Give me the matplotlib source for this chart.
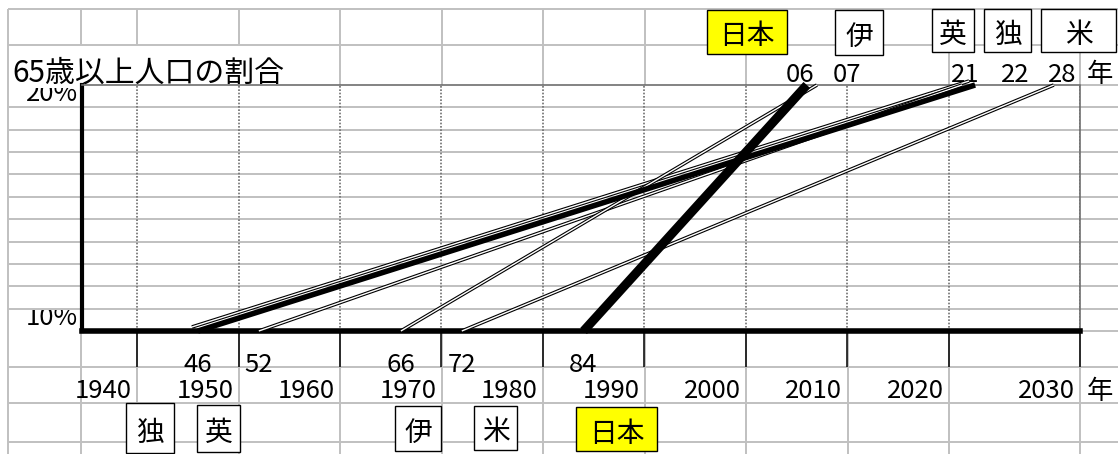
import numpy as np
import matplotlib.pyplot as plt
from matplotlib.patches import Rectangle
from matplotlib.transforms import offset_copy

plt.rcParams['font.family'] = ['Noto Sans CJK JP', 'DejaVu Sans']

# 65歳以上人口の割合が10%と20%に達した年
countries = ['独', '英', '伊', '米', '日本']
year_10 = [1946, 1952, 1966, 1972, 1984]
year_20 = [2022, 2021, 2007, 2028, 2006]
decades = [1940, 1950, 1960, 1970, 1980, 1990, 2000, 2010, 2020, 2030]

W, H = 1118, 454
fig = plt.figure(figsize=(W / 100, H / 100), dpi=100)

# ---- シートの罫線 ----
sheet = fig.add_axes([0, 0, 1, 1])
sheet.set_xlim(0, W)
sheet.set_ylim(H, 0)
sheet.axis('off')

grey = '#c0c0c0'
plot_top, plot_bot, plot_l, plot_r = 85, 331, 82, 1080
inner_rows = np.linspace(plot_top, plot_bot, 12)[1:-1]
for y in [9, 45, 367, 403, 442, *inner_rows]:
    sheet.hlines(y, 8, W, color=grey, lw=1.4)
for y in [plot_top, plot_bot]:
    sheet.hlines(y, plot_r, W, color=grey, lw=1.4)

sheet.vlines(8, 9, H, color=grey, lw=1.4)
for x in [81, 137, 238.5, 847.5]:
    sheet.vlines(x, 9, 45, color=grey, lw=1.4)
    sheet.vlines(x, plot_bot, H, color=grey, lw=1.4)
for x in [340, 441.5, 543, 644.5, 746, 949, 1080]:
    sheet.vlines(x, 9, plot_top, color=grey, lw=1.4)
    sheet.vlines(x, plot_bot, H, color=grey, lw=1.4)

sheet.text(12, 82, '65歳以上人口の割合', fontsize=21.5, va='baseline')

# セルからはみ出して上が切れている目盛り文字
for txt, base, top in [('20%', 101, 88), ('10%', 325, 310)]:
    t = sheet.text(78, base, txt, ha='right', va='baseline', fontsize=18.5)
    t.set_clip_on(True)
    t.set_clip_path(Rectangle((8, top), 73, 40, transform=sheet.transData))

# 国名の枠
def label_box(x0, y0, x1, y1, name, face):
    sheet.add_patch(Rectangle((x0, y0), x1 - x0, y1 - y0, facecolor=face,
                              edgecolor='black', lw=1, zorder=3))
    sheet.text((x0 + x1) / 2, (y0 + y1) / 2 + 1, name, ha='center',
               va='center_baseline', fontsize=20, zorder=4)

top_boxes = {'日本': (707, 10, 787, 54), '伊': (835, 10, 883, 55),
             '英': (932, 9, 974, 52), '独': (984, 9, 1031, 52),
             '米': (1041, 9, 1116, 52)}
bottom_boxes = {'独': (126, 403, 174, 453), '英': (197, 405, 240, 452),
                '伊': (395, 406, 441, 451), '米': (474, 406, 517, 450),
                '日本': (576, 407, 657, 451)}
for name in countries:
    face = '#ffff00' if name == '日本' else 'white'
    label_box(*top_boxes[name], name, face)
    label_box(*bottom_boxes[name], name, face)

# 20%到達年のラベル（上段のセル）
top_label_x = [800, 847, 965, 1015, 1062]
for x, y in zip(top_label_x, sorted(year_20)):
    sheet.text(x, 82, f'{y % 100:02d}', ha='center', va='baseline', fontsize=18.5)
sheet.text(1100, 82, '年', ha='center', va='baseline', fontsize=19)
sheet.text(1100, 399, '年', ha='center', va='baseline', fontsize=19)

# ---- グラフ ----
ax = fig.add_axes([plot_l / W, (H - plot_bot) / H,
                   (plot_r - plot_l) / W, (plot_bot - plot_top) / H])
ax.set_facecolor('none')

# 最後の10年だけ列幅が広い
edge_years = [1930] + decades
edge_pos = np.cumsum([35.6] + [101.4] * 9 + [131])

def fwd(y):
    return np.interp(y, edge_years, edge_pos)

def inv(p):
    return np.interp(p, edge_pos, edge_years)

ax.set_xscale('function', functions=(fwd, inv))
ax.set_xlim(inv(plot_l), 2030)
ax.set_ylim(10, 20)

for name, y0, y1 in zip(countries, year_10, year_20):
    xs, ys = [y0, y1], [10, 20]
    if name == '日本':
        ax.plot(xs, ys, color='black', lw=6.5, solid_capstyle='butt', clip_on=False, zorder=5)
        continue
    tr = ax.transData
    if name == '独':
        ax.plot(xs, ys, color='black', lw=4, solid_capstyle='butt', clip_on=False, zorder=4)
        tr = offset_copy(ax.transData, fig=fig, x=-6, y=4, units='dots')
    # 二重線
    ax.plot(xs, ys, color='black', lw=2.6, solid_capstyle='butt', transform=tr,
            clip_on=False, zorder=3)
    ax.plot(xs, ys, color='white', lw=1.0, solid_capstyle='butt', transform=tr,
            clip_on=False, zorder=3)

for side in ['top', 'right']:
    ax.spines[side].set(color='#6e6e6e', lw=1.2, linestyle=(0, (1, 1)))
ax.spines['left'].set(color='black', lw=3)
ax.spines['bottom'].set(color='black', lw=4)

ax.set_xticks(decades)
ax.set_yticks([])
ax.tick_params(axis='x', direction='out', length=26, width=1.1, color='black',
               labelbottom=False)
ax.grid(axis='x', color='#6e6e6e', lw=1.2, linestyle=(0, (1, 1)))
ax.set_axisbelow(True)

for yr in decades:
    ax.annotate(str(yr), xy=(yr, 0), xycoords=('data', 'axes fraction'),
                xytext=(-5, -67), textcoords='offset pixels',
                ha='right', va='baseline', fontsize=18.5, annotation_clip=False)
for y in year_10:
    ax.annotate(f'{y % 100:02d}', xy=(y, 0), xycoords=('data', 'axes fraction'),
                xytext=(0, -41), textcoords='offset pixels',
                ha='center', va='baseline', fontsize=18.5, annotation_clip=False)

fig.savefig('out.png', dpi=100)
